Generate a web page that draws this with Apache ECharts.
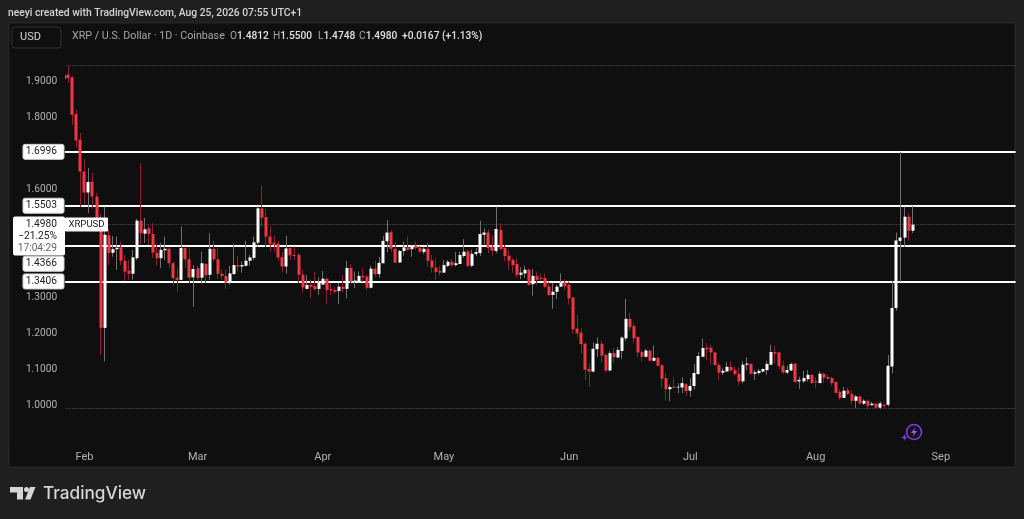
<!DOCTYPE html>
<html>
<head>
<meta charset="utf-8">
<style>
  html, body { margin: 0; padding: 0; background: #1f1f1f; }
  #chart { width: 1024px; height: 519px; }
</style>
<script src="https://cdn.jsdelivr.net/npm/echarts@6/dist/echarts.min.js"></script>
</head>
<body>
<div id="chart"></div>
<script>
// XRP / USD daily candles (first candle is Jan 27)
var opens = [
  1.902,1.914,1.906,1.804,1.733,1.645,1.587,1.617,1.576,1.517,1.212,1.468,1.420,1.430,1.435,1.398,1.370,1.362,1.405,1.509,
  1.473,1.488,1.472,1.420,1.405,1.427,1.431,1.391,1.351,1.345,1.433,1.402,1.352,1.377,1.351,1.389,1.359,1.431,1.402,1.362,
  1.356,1.337,1.361,1.386,1.382,1.384,1.398,1.406,1.448,1.543,1.519,1.465,1.448,1.445,1.408,1.382,1.433,1.414,1.414,1.359,
  1.320,1.331,1.328,1.320,1.332,1.348,1.320,1.317,1.314,1.326,1.320,1.378,1.340,1.338,1.356,1.354,1.323,1.376,1.361,1.391,
  1.452,1.477,1.431,1.393,1.425,1.435,1.430,1.440,1.434,1.422,1.431,1.399,1.379,1.370,1.365,1.384,1.395,1.386,1.389,1.411,
  1.424,1.384,1.417,1.419,1.470,1.476,1.437,1.425,1.483,1.433,1.412,1.400,1.389,1.359,1.363,1.373,1.333,1.356,1.350,1.350,
  1.327,1.303,1.312,1.326,1.338,1.331,1.296,1.210,1.199,1.168,1.098,1.091,1.153,1.168,1.137,1.094,1.142,1.130,1.148,1.183,
  1.237,1.217,1.187,1.145,1.132,1.149,1.121,1.129,1.109,1.073,1.042,1.049,1.047,1.047,1.056,1.038,1.051,1.084,1.132,1.157,
  1.157,1.144,1.109,1.088,1.091,1.104,1.095,1.085,1.064,1.110,1.112,1.085,1.087,1.091,1.095,1.110,1.145,1.144,1.107,1.088,
  1.094,1.113,1.064,1.064,1.070,1.082,1.064,1.059,1.085,1.076,1.073,1.062,1.035,1.018,1.039,1.029,1.010,1.022,1.002,1.010,
  0.998,1.002,0.991,0.999,0.999,1.105,1.267,1.453,1.462,1.520,1.4812
];
var closes = [
  1.912,1.904,1.802,1.731,1.645,1.587,1.616,1.576,1.517,1.212,1.470,1.420,1.430,1.434,1.398,1.368,1.362,1.407,1.509,1.474,
  1.485,1.472,1.420,1.405,1.428,1.431,1.391,1.350,1.345,1.433,1.402,1.351,1.375,1.350,1.391,1.358,1.431,1.402,1.362,1.356,
  1.338,1.363,1.386,1.382,1.386,1.398,1.407,1.449,1.543,1.517,1.465,1.445,1.442,1.407,1.382,1.432,1.413,1.411,1.359,1.324,
  1.331,1.326,1.319,1.338,1.348,1.317,1.316,1.312,1.326,1.320,1.378,1.340,1.343,1.356,1.352,1.323,1.376,1.361,1.392,1.453,
  1.476,1.431,1.393,1.425,1.435,1.428,1.440,1.433,1.423,1.431,1.398,1.379,1.367,1.365,1.386,1.395,1.386,1.391,1.414,1.423,
  1.384,1.417,1.422,1.472,1.476,1.433,1.426,1.486,1.430,1.411,1.398,1.386,1.359,1.365,1.373,1.331,1.356,1.345,1.347,1.326,
  1.303,1.312,1.326,1.338,1.328,1.294,1.208,1.197,1.167,1.096,1.091,1.154,1.168,1.135,1.094,1.142,1.131,1.151,1.185,1.237,
  1.214,1.183,1.144,1.132,1.149,1.121,1.129,1.107,1.071,1.042,1.048,1.046,1.049,1.059,1.037,1.051,1.087,1.134,1.156,1.153,
  1.144,1.109,1.088,1.093,1.104,1.094,1.084,1.064,1.110,1.113,1.085,1.089,1.093,1.098,1.112,1.145,1.141,1.106,1.089,1.095,
  1.112,1.062,1.068,1.073,1.082,1.059,1.061,1.085,1.074,1.071,1.059,1.032,1.018,1.038,1.029,1.010,1.022,1.003,1.010,0.996,
  1.002,0.991,1.003,0.996,1.107,1.267,1.454,1.462,1.520,1.481,1.4980
];
var lows = [
  1.902,1.891,1.774,1.711,1.547,1.553,1.530,1.542,1.497,1.137,1.119,1.386,1.409,1.373,1.386,1.342,1.345,1.345,1.400,1.442,
  1.447,1.442,1.406,1.385,1.378,1.400,1.378,1.329,1.312,1.345,1.378,1.337,1.271,1.345,1.334,1.337,1.345,1.396,1.347,1.345,
  1.320,1.331,1.359,1.370,1.365,1.382,1.384,1.400,1.437,1.492,1.436,1.423,1.423,1.398,1.368,1.362,1.400,1.400,1.336,1.310,
  1.319,1.294,1.315,1.303,1.331,1.280,1.303,1.306,1.278,1.311,1.294,1.336,1.322,1.336,1.340,1.317,1.321,1.354,1.351,1.391,
  1.422,1.422,1.391,1.392,1.412,1.425,1.409,1.428,1.420,1.416,1.382,1.365,1.345,1.357,1.365,1.380,1.380,1.382,1.389,1.406,
  1.379,1.380,1.411,1.411,1.442,1.419,1.412,1.419,1.428,1.396,1.373,1.364,1.350,1.347,1.350,1.328,1.301,1.331,1.343,1.322,
  1.301,1.265,1.292,1.325,1.317,1.276,1.195,1.186,1.140,1.068,1.049,1.088,1.131,1.116,1.088,1.091,1.115,1.128,1.126,1.176,
  1.202,1.171,1.131,1.119,1.130,1.119,1.119,1.105,1.045,1.011,1.008,1.043,1.031,1.031,1.024,1.022,1.042,1.082,1.131,1.123,
  1.109,1.107,1.068,1.082,1.091,1.091,1.079,1.052,1.059,1.095,1.083,1.068,1.082,1.089,1.082,1.109,1.114,1.098,1.084,1.084,
  1.093,1.060,1.043,1.060,1.063,1.057,1.046,1.059,1.060,1.068,1.052,1.030,1.012,1.018,1.026,0.999,0.989,0.999,0.999,0.987,
  0.996,0.989,0.987,0.987,0.994,1.086,1.260,1.340,1.437,1.454,1.4748
];
var highs = [
  1.912,1.940,1.910,1.816,1.752,1.680,1.655,1.642,1.586,1.528,1.548,1.486,1.467,1.465,1.451,1.414,1.400,1.428,1.514,1.668,
  1.517,1.497,1.503,1.442,1.447,1.465,1.436,1.396,1.378,1.493,1.437,1.434,1.386,1.384,1.423,1.392,1.474,1.454,1.434,1.375,
  1.373,1.384,1.445,1.411,1.396,1.453,1.414,1.465,1.548,1.606,1.542,1.493,1.468,1.453,1.423,1.467,1.437,1.437,1.420,1.373,
  1.358,1.345,1.368,1.352,1.370,1.352,1.336,1.325,1.337,1.359,1.398,1.389,1.368,1.368,1.377,1.359,1.384,1.398,1.408,1.467,
  1.511,1.483,1.451,1.428,1.451,1.465,1.442,1.451,1.439,1.435,1.448,1.414,1.405,1.384,1.400,1.400,1.403,1.422,1.423,1.458,
  1.428,1.428,1.433,1.509,1.488,1.485,1.468,1.548,1.502,1.442,1.428,1.405,1.405,1.380,1.384,1.377,1.375,1.368,1.363,1.363,
  1.340,1.336,1.331,1.363,1.347,1.340,1.298,1.248,1.212,1.172,1.114,1.172,1.186,1.177,1.142,1.148,1.157,1.158,1.188,1.292,
  1.255,1.225,1.188,1.151,1.154,1.151,1.163,1.131,1.111,1.088,1.054,1.075,1.059,1.075,1.059,1.073,1.112,1.145,1.183,1.170,
  1.165,1.146,1.116,1.100,1.117,1.119,1.105,1.103,1.120,1.130,1.114,1.095,1.098,1.100,1.120,1.165,1.162,1.146,1.120,1.107,
  1.116,1.114,1.077,1.093,1.095,1.084,1.075,1.091,1.088,1.082,1.077,1.062,1.042,1.048,1.047,1.040,1.026,1.024,1.014,1.014,
  1.007,1.003,1.008,1.003,1.137,1.343,1.476,1.6996,1.548,1.530,1.5500
];

var tickLabels = ['1.0000', '1.1000', '1.2000', '1.3000', '1.6000', '1.8000', '1.9000'];
var levels = [1.6996, 1.5503, 1.4366, 1.3406];
var levelLabelShift = [0, 0, 17, 0]; // 1.4366 tag is pushed down by the price tag
var lastPrice = 1.4980;
var seriesHigh = 1.940;
var seriesLow = 0.987;
var monthNames = { '02': 'Feb', '03': 'Mar', '04': 'Apr', '05': 'May', '06': 'Jun', '07': 'Jul', '08': 'Aug', '09': 'Sep' };
var legendLetters = ['O', 'H', 'L', 'C'];
var legendValues = ['1.4812', '1.5500', '1.4748', '1.4980'];

// category axis runs on past the last candle, like the empty right side of the chart
var days = [];
for (var d = 0; d < 236; d++) {
  days.push(new Date(Date.UTC(2026, 0, 27 + d)).toISOString().slice(0, 10));
}

var wickData = [], bodyData = [];
for (var i = 0; i < opens.length; i++) {
  wickData.push([opens[i], closes[i], lows[i], highs[i]]);
  bodyData.push([opens[i], closes[i], Math.min(opens[i], closes[i]), Math.max(opens[i], closes[i])]);
}

var FONT = 'Roboto, sans-serif';
var chart = echarts.init(document.getElementById('chart'), null, { renderer: 'canvas' });

function levelLine(v) {
  return { yAxis: v, lineStyle: { color: '#ffffff', width: 2, type: 'solid' } };
}
function dotLine(v) {
  return { yAxis: v, lineStyle: { color: '#4d4d4d', width: 1, type: 'dotted' } };
}

chart.setOption({
  animation: false,
  backgroundColor: '#1f1f1f',
  grid: { left: 62.2, top: 43.4, width: 953.4, height: 397.1 },
  xAxis: {
    type: 'category',
    data: days,
    boundaryGap: true,
    axisLine: { show: false },
    axisTick: { show: false },
    splitLine: { show: false },
    axisLabel: {
      interval: 0,
      margin: 11,
      color: '#b2b2b2',
      fontFamily: FONT,
      fontSize: 11,
      formatter: function (v) {
        return v.slice(8) === '01' ? monthNames[v.slice(5, 7)] : '';
      }
    }
  },
  yAxis: {
    type: 'value',
    min: 0.9,
    max: 2.0,
    interval: 0.1,
    z: 10,
    axisLine: { show: false },
    axisTick: { show: false },
    splitLine: { show: false },
    axisLabel: {
      margin: 5,
      verticalAlign: 'top',
      lineHeight: 3,
      color: '#b2b2b2',
      fontFamily: FONT,
      fontSize: 10.2,
      formatter: function (v) {
        var s = v.toFixed(4);
        return tickLabels.indexOf(s) >= 0 ? s : '';
      }
    }
  },
  series: [
    {
      name: 'wicks',
      type: 'candlestick',
      barWidth: 1,
      data: wickData,
      z: 3,
      itemStyle: { color: '#6f6f6f', color0: '#8c1f2b', borderColor: '#6f6f6f', borderColor0: '#8c1f2b', borderWidth: 1 }
    },
    {
      name: 'XRPUSD',
      type: 'candlestick',
      barWidth: 3.5,
      data: bodyData,
      z: 4,
      itemStyle: { color: '#ffffff', color0: '#f23645', borderColor: '#ffffff', borderColor0: '#f23645', borderWidth: 0 },
      markLine: {
        silent: true,
        symbol: 'none',
        z: 3,
        label: { show: false },
        data: [dotLine(seriesHigh), dotLine(lastPrice), dotLine(seriesLow)].concat(levels.map(levelLine))
      }
    }
  ]
});

function tag(text, y, x, w, h, color) {
  return [
    { type: 'rect', z: 20, shape: { x: x, y: y, width: w, height: h, r: 2 }, style: { fill: '#ffffff', stroke: '#d0d0d0', lineWidth: 1 } },
    { type: 'text', z: 21, style: { x: x + w - 7, y: y + h / 2, text: text, fill: color || '#222222', font: '10.2px ' + FONT, textAlign: 'right', textVerticalAlign: 'middle' } }
  ];
}

var els = [
  { type: 'rect', z: -1, shape: { x: 9, y: 23, width: 1006, height: 444 }, style: { fill: '#0f0f0f', stroke: '#2b2b2b', lineWidth: 1 } },
  { type: 'rect', z: 5, shape: { x: 9.5, y: 43, width: 55.5, height: 400 }, style: { fill: '#0f0f0f' } },
  { type: 'text', z: 21, style: { x: 8, y: 13, text: 'neeyi created with TradingView.com, Aug 25, 2026 07:55 UTC+1', fill: '#d6d6d6', font: '500 10.3px ' + FONT, textVerticalAlign: 'middle' } },
  { type: 'rect', z: 20, shape: { x: 12, y: 27, width: 49, height: 21, r: 3 }, style: { fill: '#0f0f0f', stroke: '#333333', lineWidth: 1 } },
  { type: 'text', z: 21, style: { x: 20, y: 37.5, text: 'USD', fill: '#d6d6d6', font: '11px ' + FONT, textVerticalAlign: 'middle' } },
  { type: 'text', z: 21, style: { x: 72, y: 36.5, text: 'XRP / U.S. Dollar · 1D · Coinbase', fill: '#a8a8a8', font: '10.7px ' + FONT, textVerticalAlign: 'middle' } },
  { type: 'text', z: 21, style: { x: 402, y: 36.5, text: '+0.0167 (+1.13%)', fill: '#e0e0e0', font: '500 10.2px ' + FONT, textVerticalAlign: 'middle' } },
  // TradingView mark
  { type: 'polygon', z: 21, shape: { points: [[10, 487], [23, 487], [23, 499.5], [17, 499.5], [17, 492.5], [10, 492.5]] }, style: { fill: '#d6d6d6' } },
  { type: 'circle', z: 21, shape: { cx: 26.5, cy: 489.5, r: 2.5 }, style: { fill: '#d6d6d6' } },
  { type: 'polygon', z: 21, shape: { points: [[30, 487], [35.5, 487], [30.5, 499.5], [25, 499.5]] }, style: { fill: '#d6d6d6' } },
  { type: 'text', z: 21, style: { x: 43, y: 494, text: 'TradingView', fill: '#d6d6d6', font: '500 17.2px Inter, ' + FONT, textVerticalAlign: 'middle' } },
  // lightning badge under the last candles
  { type: 'circle', z: 21, shape: { cx: 914, cy: 432, r: 7.5 }, style: { fill: '#17101f', stroke: '#7c3fd6', lineWidth: 1.6 } },
  { type: 'polygon', z: 22, shape: { points: [[915.5, 427], [911, 433], [914, 433], [912.5, 437], [917, 431], [914, 431]] }, style: { fill: '#9b5cf0' } },
  { type: 'polygon', z: 22, shape: { points: [[904.5, 434], [905.5, 436.5], [908, 437.5], [905.5, 438.5], [904.5, 441], [903.5, 438.5], [901, 437.5], [903.5, 436.5]] }, style: { fill: '#6f3cc4' } }
];

var legendX = [230, 273, 318, 359];
legendLetters.forEach(function (letter, k) {
  els.push({
    type: 'text', z: 21,
    style: {
      x: legendX[k], y: 36.5, textVerticalAlign: 'middle',
      text: '{g|' + letter + '}{v|' + legendValues[k] + '}',
      font: '10.2px ' + FONT,
      rich: {
        g: { fill: '#a8a8a8', font: '10.2px ' + FONT },
        v: { fill: '#e0e0e0', font: '500 10.2px ' + FONT }
      }
    }
  });
});

levels.forEach(function (v, k) {
  var y = chart.convertToPixel({ yAxisIndex: 0 }, v);
  els = els.concat(tag(v.toFixed(4), y - 7.5 + levelLabelShift[k], 23, 41, 15));
});

var priceY = chart.convertToPixel({ yAxisIndex: 0 }, lastPrice);
els.push({ type: 'rect', z: 22, shape: { x: 13, y: priceY - 8, width: 52, height: 39, r: 2 }, style: { fill: '#ffffff' } });
els.push({ type: 'text', z: 23, style: { x: 57, y: priceY, text: lastPrice.toFixed(4), fill: '#222222', font: '10.2px ' + FONT, textAlign: 'right', textVerticalAlign: 'middle' } });
els.push({ type: 'text', z: 23, style: { x: 57, y: priceY + 12, text: '−21.25%', fill: '#222222', font: '10.2px ' + FONT, textAlign: 'right', textVerticalAlign: 'middle' } });
els.push({ type: 'text', z: 23, style: { x: 57, y: priceY + 24, text: '17:04:29', fill: '#666666', font: '10.2px ' + FONT, textAlign: 'right', textVerticalAlign: 'middle' } });
els.push({ type: 'rect', z: 22, shape: { x: 65, y: priceY - 7, width: 43, height: 14, r: 1 }, style: { fill: '#ffffff' } });
els.push({ type: 'text', z: 23, style: { x: 86.5, y: priceY, text: 'XRPUSD', fill: '#222222', font: '9.6px ' + FONT, textAlign: 'center', textVerticalAlign: 'middle' } });

chart.setOption({ graphic: { elements: els } });
</script>
</body>
</html>
